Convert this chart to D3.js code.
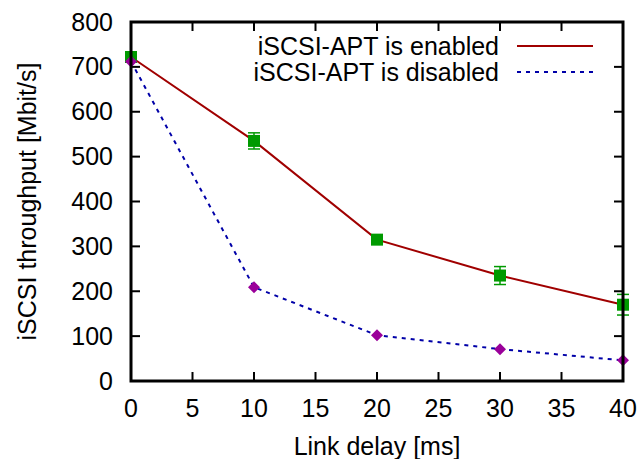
<!DOCTYPE html>
<html>
<head>
<meta charset="utf-8">
<script src="https://cdn.jsdelivr.net/npm/d3@7"></script>
<style>
  body { margin: 0; background: #fff; }
  text { font-family: "Liberation Sans", Arial, sans-serif; }
</style>
</head>
<body>
<svg id="chart" width="643" height="459"></svg>
<script>
// chart data
const delays = [0, 10, 20, 30, 40];
const enabled = [722, 535, 315, 235, 170];
const enabledErr = [8, 18, 5, 20, 23];
const disabled = [712, 209, 102, 71, 46];
const xTicks = [0, 5, 10, 15, 20, 25, 30, 35, 40];
const yTicks = [0, 100, 200, 300, 400, 500, 600, 700, 800];

const svg = d3.select("#chart");
const margin = {top: 22, right: 20, bottom: 78, left: 131};
const width = 643 - margin.left - margin.right,
      height = 459 - margin.top - margin.bottom;

const g = svg.append("g")
    .attr("transform", "translate(" + margin.left + "," + margin.top + ")");

const x = d3.scaleLinear().domain([0, 40]).range([0, width]);
const y = d3.scaleLinear().domain([0, 800]).range([height, 0]);

const tickLen = 9;
const fontSize = "25px";

// tick marks on all four sides, pointing inward (gnuplot style)
g.selectAll(".xt").data(xTicks).enter().append("line")
    .attr("x1", d => x(d)).attr("x2", d => x(d))
    .attr("y1", height).attr("y2", height - tickLen)
    .attr("stroke", "#000").attr("stroke-width", 2);
g.selectAll(".xt2").data(xTicks).enter().append("line")
    .attr("x1", d => x(d)).attr("x2", d => x(d))
    .attr("y1", 0).attr("y2", tickLen)
    .attr("stroke", "#000").attr("stroke-width", 2);
g.selectAll(".yt").data(yTicks).enter().append("line")
    .attr("x1", 0).attr("x2", tickLen)
    .attr("y1", d => y(d)).attr("y2", d => y(d))
    .attr("stroke", "#000").attr("stroke-width", 2);
g.selectAll(".yt2").data(yTicks).enter().append("line")
    .attr("x1", width).attr("x2", width - tickLen)
    .attr("y1", d => y(d)).attr("y2", d => y(d))
    .attr("stroke", "#000").attr("stroke-width", 2);

// tick labels
g.selectAll(".xl").data(xTicks).enter().append("text")
    .attr("x", d => x(d)).attr("y", height + 36)
    .attr("text-anchor", "middle")
    .style("font-size", fontSize)
    .text(d => d);
g.selectAll(".yl").data(yTicks).enter().append("text")
    .attr("x", -18).attr("y", d => y(d) + 8.5)
    .attr("text-anchor", "end")
    .style("font-size", fontSize)
    .text(d => d);

// axis titles
svg.append("text")
    .attr("x", margin.left + width / 2).attr("y", 455)
    .attr("text-anchor", "middle")
    .style("font-size", fontSize)
    .text("Link delay [ms]");
svg.append("text")
    .attr("transform", "translate(36," + (margin.top + height / 2) + ") rotate(-90)")
    .attr("text-anchor", "middle")
    .style("font-size", fontSize)
    .text("iSCSI throughput [Mbit/s]");

// lines
const line = d3.line().x(d => x(d[0])).y(d => y(d[1]));

g.append("path")
    .datum(delays.map((d, i) => [d, disabled[i]]))
    .attr("fill", "none")
    .attr("stroke", "#0000a8")
    .attr("stroke-width", 2)
    .attr("stroke-dasharray", "4,5")
    .attr("d", line);

g.append("path")
    .datum(delays.map((d, i) => [d, enabled[i]]))
    .attr("fill", "none")
    .attr("stroke", "#a00000")
    .attr("stroke-width", 2)
    .attr("d", line);

// error bars (enabled)
const eb = g.selectAll(".eb").data(delays).enter().append("g")
    .attr("stroke", "#009a00").attr("stroke-width", 1.5);
eb.append("line")
    .attr("x1", d => x(d)).attr("x2", d => x(d))
    .attr("y1", (d, i) => y(enabled[i] - enabledErr[i]))
    .attr("y2", (d, i) => y(enabled[i] + enabledErr[i]));
eb.append("line")
    .attr("x1", d => x(d) - 6).attr("x2", d => x(d) + 6)
    .attr("y1", (d, i) => y(enabled[i] - enabledErr[i]))
    .attr("y2", (d, i) => y(enabled[i] - enabledErr[i]));
eb.append("line")
    .attr("x1", d => x(d) - 6).attr("x2", d => x(d) + 6)
    .attr("y1", (d, i) => y(enabled[i] + enabledErr[i]))
    .attr("y2", (d, i) => y(enabled[i] + enabledErr[i]));

// markers
g.selectAll(".sq").data(delays).enter().append("rect")
    .attr("x", d => x(d) - 6).attr("y", (d, i) => y(enabled[i]) - 6)
    .attr("width", 12).attr("height", 12)
    .attr("fill", "#009a00");

g.selectAll(".dm").data(delays).enter().append("path")
    .attr("transform", (d, i) => "translate(" + x(d) + "," + y(disabled[i]) + ")")
    .attr("d", "M0,-6L6,0L0,6L-6,0Z")
    .attr("fill", "#9a009a");

// border
g.append("rect")
    .attr("width", width).attr("height", height)
    .attr("fill", "none").attr("stroke", "#000").attr("stroke-width", 3);

// legend
const legend = [
  {label: "iSCSI-APT is enabled", color: "#a00000", dash: null},
  {label: "iSCSI-APT is disabled", color: "#0000a8", dash: "4,5"}
];
const lg = svg.selectAll(".lg").data(legend).enter().append("g")
    .attr("transform", (d, i) => "translate(0," + (46 + i * 26) + ")");
lg.append("text")
    .attr("x", 499).attr("y", 9)
    .attr("text-anchor", "end")
    .style("font-size", fontSize)
    .text(d => d.label);
lg.append("line")
    .attr("x1", 517).attr("x2", 593)
    .attr("y1", 0).attr("y2", 0)
    .attr("stroke", d => d.color)
    .attr("stroke-width", 2)
    .attr("stroke-dasharray", d => d.dash);
</script>
</body>
</html>
